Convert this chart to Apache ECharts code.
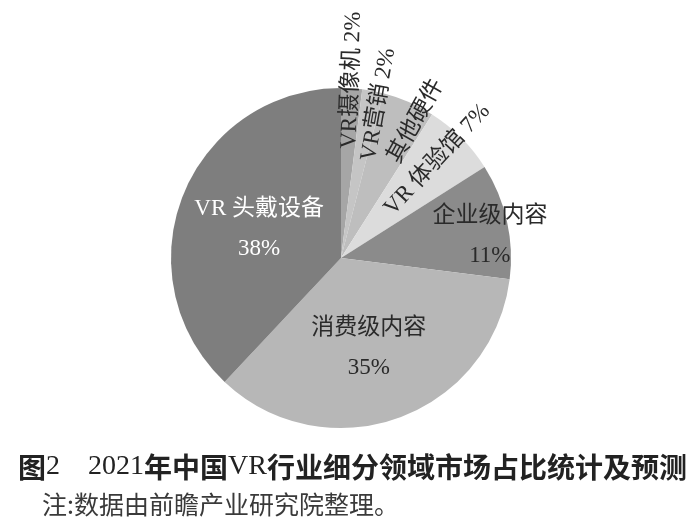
<!DOCTYPE html>
<html>
<head>
<meta charset="utf-8">
<script src="https://cdn.jsdelivr.net/npm/echarts@6/dist/echarts.min.js"></script>
<style>
html,body{margin:0;padding:0;background:#fff;}
#main{width:700px;height:530px;}
</style>
</head>
<body>
<div id="main"></div>
<script>
// ---- data ----
const categories = ['VR摄像机', 'VR营销', '其他硬件', 'VR 体验馆', '企业级内容', '消费级内容', 'VR 头戴设备'];
const shares = [2, 2, 5, 7, 11, 35, 38];
const showPercent = [true, true, false, true, true, true, true];
const twoLine = [false, false, false, false, true, true, true];
const sliceColors = ['#a6a6a6', '#c5c5c5', '#bebebe', '#dcdcdc', '#8b8b8b', '#b7b7b7', '#7e7e7e'];
const labelColors = ['#2a2a2a', '#2a2a2a', '#2a2a2a', '#2a2a2a', '#2a2a2a', '#2a2a2a', '#ffffff'];
const labelRotate = [88, 80, 61, 47, 0, 0, 0];
const labelShift = [[5, -90], [21, -67], [40, -56], [34, -36], [63, -3], [-2, 7], [0, 3]];
const titleText = '{c|图}{n|2}{c|　}{n|2021}{c|年中国}{n|VR}{c|行业细分领域市场占比统计及预测}';
const noteText = '注:数据由前瞻产业研究院整理。';

const FONT = "'Liberation Serif', 'Noto Sans CJK SC', serif";

const chart = echarts.init(document.getElementById('main'), null, {renderer: 'canvas'});

const pieData = categories.map((name, i) => ({
  name: name,
  value: shares[i],
  itemStyle: {color: sliceColors[i]},
  label: {
    color: labelColors[i],
    rotate: labelRotate[i]
  }
}));

chart.setOption({
  backgroundColor: '#ffffff',
  animation: false,
  title: [
    {
      text: titleText,
      left: 18,
      top: 452,
      padding: 0,
      textStyle: {
        rich: {
          c: {fontFamily: "'Noto Sans CJK SC', sans-serif", fontWeight: 'bold', fontSize: 28, color: '#222', lineHeight: 30},
          n: {fontFamily: "'Liberation Serif', serif", fontWeight: 'normal', fontSize: 28, color: '#222', lineHeight: 30}
        }
      }
    },
    {
      text: noteText,
      left: 42,
      top: 492,
      padding: 0,
      textStyle: {
        fontFamily: "'Noto Sans CJK SC', sans-serif",
        fontWeight: 'normal',
        fontSize: 25,
        color: '#3a3a3a'
      }
    }
  ],
  series: [{
    type: 'pie',
    center: [341, 258],
    radius: [0, 170],
    startAngle: 90,
    clockwise: true,
    silent: true,
    avoidLabelOverlap: false,
    itemStyle: {borderWidth: 0},
    label: {
      show: true,
      position: 'inside',
      fontFamily: FONT,
      fontSize: 23,
      lineHeight: 40,
      formatter: function (p) {
        const i = p.dataIndex;
        if (!showPercent[i]) return p.name;
        return p.name + (twoLine[i] ? '\n' : ' ') + p.value + '%';
      }
    },
    labelLine: {show: false},
    labelLayout: function (p) {
      const i = p.dataIndex;
      const s = labelShift[i];
      const t = labelRotate[i] * Math.PI / 180;
      // shift is applied in the label's rotated frame: convert from screen frame
      return {
        dx: s[0] * Math.cos(t) - s[1] * Math.sin(t),
        dy: s[0] * Math.sin(t) + s[1] * Math.cos(t)
      };
    },
    data: pieData
  }]
});
</script>
</body>
</html>
